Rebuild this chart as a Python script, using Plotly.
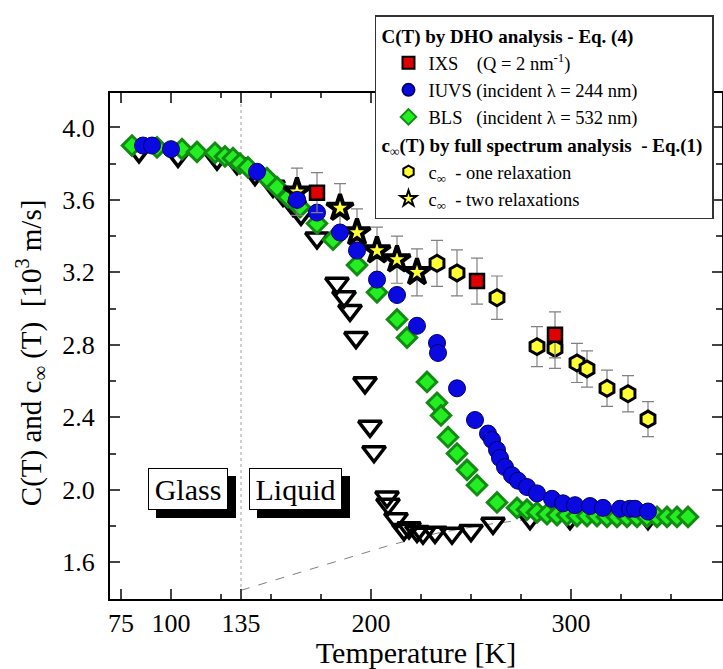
import plotly.graph_objects as go

SERIF = "Liberation Serif"

# ---------------- data ----------------
# open down-triangles (unlabelled series)
tri_T = [84, 103.5, 123, 133, 142, 151, 156, 161, 165, 173, 183, 186.5, 189.5, 192.5, 197, 199.5,
         201.5, 208, 208.5, 212.5, 216.5, 219, 223, 226, 232, 240.5, 250, 261, 279.5, 299.5, 338.5]
tri_v = [3.865, 3.84, 3.825, 3.80, 3.74, 3.675, 3.625, 3.57, 3.52, 3.39, 3.14, 3.065, 2.99, 2.84, 2.59, 2.35,
         2.21, 1.96, 1.92, 1.84, 1.78, 1.79, 1.77, 1.76, 1.765, 1.76, 1.775, 1.815, 1.84, 1.84, 1.84]

# BLS (green diamonds)
bls_T = [80.5, 93, 105.5, 113, 122, 127, 131, 134.5, 138.5, 148, 153, 158.5, 164.5, 173, 181, 193, 203,
         213, 218, 228, 233, 235, 238.5, 243, 248, 253, 263, 273, 278, 283, 288, 293, 298, 303, 308, 313,
         318, 323, 328, 333, 338, 343, 348, 353, 358.5]
bls_v = [3.90, 3.89, 3.88, 3.865, 3.86, 3.84, 3.83, 3.80, 3.78, 3.72, 3.67, 3.615, 3.56, 3.47, 3.38, 3.24,
         3.09, 2.94, 2.84, 2.595, 2.48, 2.41, 2.29, 2.20, 2.11, 2.025, 1.93, 1.90, 1.89, 1.875, 1.865, 1.86,
         1.86, 1.855, 1.855, 1.855, 1.85, 1.85, 1.85, 1.85, 1.85, 1.85, 1.85, 1.85, 1.85]

# IUVS (blue circles)
iuvs_T = [86, 90.5, 100, 143, 163, 173, 184.5, 193, 203, 213, 223, 233, 233.5, 243, 252, 258.5, 260.5,
          263, 264.5, 267, 270.5, 273.5, 278, 283, 290.5, 296, 302, 309.5, 316, 324.5, 329.5, 332, 338.5]
iuvs_v = [3.90, 3.90, 3.88, 3.755, 3.60, 3.53, 3.42, 3.32, 3.16, 3.075, 2.905, 2.81, 2.755, 2.56, 2.385,
          2.31, 2.275, 2.22, 2.175, 2.125, 2.08, 2.05, 2.015, 1.98, 1.95, 1.925, 1.915, 1.91, 1.90, 1.895,
          1.895, 1.895, 1.88]

# c_inf two relaxations (stars)
two_T = [163, 184.5, 193, 203, 213, 223]
two_v = [3.645, 3.555, 3.42, 3.32, 3.27, 3.20]
two_err = [0.13, 0.135, 0.13, 0.13, 0.13, 0.13]

# c_inf one relaxation (yellow hexagons)
one_T = [233, 243, 263, 283, 292, 303, 308, 318, 328.5, 338.5]
one_v = [3.25, 3.197, 3.06, 2.79, 2.78, 2.70, 2.667, 2.56, 2.53, 2.39]
one_err = [0.127, 0.127, 0.12, 0.11, 0.11, 0.108, 0.10, 0.10, 0.10, 0.097]

# IXS (red squares)
ixs_T = [173, 253, 292]
ixs_v = [3.64, 3.152, 2.855]
ixs_err = [0.11, 0.127, 0.127]

# dashed guide curve
fit_T = [135, 164.5, 189.5, 209.5, 233, 256, 273, 290]
fit_v = [1.445, 1.545, 1.628, 1.694, 1.76, 1.805, 1.83, 1.85]

x_ticks = [75, 100, 135, 200, 300]
y_ticks = [1.6, 2.0, 2.4, 2.8, 3.2, 3.6, 4.0]

ERR = dict(type="data", visible=True, color="#808080", thickness=1.2, width=6)
G1 = "<b>C(T) by DHO analysis - Eq. (4)</b>"
G2 = "<b>c<sub>∞</sub>(T) by full spectrum analysis\u00a0\u00a0- Eq.(1)</b>"

fig = go.Figure()

fig.add_trace(go.Scatter(x=fit_T, y=fit_v, mode="lines", showlegend=False,
                         line=dict(color="#808080", width=1, dash="dash"), hoverinfo="skip"))

fig.add_trace(go.Scatter(x=tri_T, y=tri_v, mode="markers", showlegend=False,
                         marker=dict(symbol="triangle-down-open", size=20, color="black",
                                     line=dict(color="black", width=3.5))))

fig.add_trace(go.Scatter(x=bls_T, y=bls_v, mode="markers",
                         name="BLS\u00a0\u00a0\u00a0(incident λ = 532 nm)",
                         legendgroup="dho", legendrank=3, legendgrouptitle=dict(text=G1),
                         marker=dict(symbol="diamond", size=15, color="#22ee22",
                                     line=dict(color="#138a13", width=3))))

fig.add_trace(go.Scatter(x=two_T, y=two_v, mode="markers",
                         name="c<sub>∞</sub>\u00a0\u00a0- two relaxations",
                         legendgroup="full", legendrank=5, legendgrouptitle=dict(text=G2),
                         error_y=dict(array=two_err, **ERR),
                         marker=dict(symbol="star", size=20, color="#ffff33",
                                     line=dict(color="black", width=4))))

fig.add_trace(go.Scatter(x=one_T, y=one_v, mode="markers",
                         name="c<sub>∞</sub>\u00a0\u00a0- one relaxation",
                         legendgroup="full", legendrank=4, legendgrouptitle=dict(text=G2),
                         error_y=dict(array=one_err, **ERR),
                         marker=dict(symbol="hexagon", size=16, color="#ffff33",
                                     line=dict(color="black", width=3))))

fig.add_trace(go.Scatter(x=iuvs_T, y=iuvs_v, mode="markers",
                         name="IUVS (incident λ = 244 nm)",
                         legendgroup="dho", legendrank=2, legendgrouptitle=dict(text=G1),
                         marker=dict(symbol="circle", size=17, color="#0a0ae0",
                                     line=dict(color="#00006e", width=1))))

fig.add_trace(go.Scatter(x=ixs_T, y=ixs_v, mode="markers",
                         name="IXS\u00a0\u00a0\u00a0\u00a0(Q = 2 nm<sup>-1</sup>)",
                         legendgroup="dho", legendrank=1, legendgrouptitle=dict(text=G1),
                         error_y=dict(array=ixs_err, **ERR),
                         marker=dict(symbol="square", size=14, color="#e00000",
                                     line=dict(color="black", width=2.5))))

# vertical dotted line at Tg
fig.add_shape(type="line", x0=135, x1=135, y0=0, y1=1, xref="x", yref="paper",
              line=dict(color="#a0a0a0", width=1, dash="dot"), layer="below")

# Glass / Liquid labels with black drop shadows
for (xc, x0, x1, txt, w) in [(108.5, 92.5, 132.5, "Glass", 78), (162.25, 143, 189.5, "Liquid", 91)]:
    fig.add_shape(type="rect", x0=x0, x1=x1, y0=1.844, y1=2.076, xref="x", yref="y",
                  fillcolor="black", line=dict(width=0), layer="above")
    fig.add_annotation(x=xc, y=2.003, xref="x", yref="y", text=txt, showarrow=False,
                       font=dict(family=SERIF, size=30, color="black"),
                       bgcolor="white", bordercolor="black", borderwidth=1, borderpad=0,
                       width=w, height=40)

# y-axis title
fig.add_annotation(x=-0.129, y=0.486, xref="paper", yref="paper", textangle=-90,
                   text="C(T) and c<sub>∞</sub> (T)\u00a0\u00a0[10<sup>3</sup> m/s]", showarrow=False,
                   font=dict(family=SERIF, size=29, color="black"), xanchor="center", yanchor="middle")

fig.update_layout(
    width=723, height=669,
    margin=dict(l=110, r=1, t=93, b=70, autoexpand=False),
    paper_bgcolor="white", plot_bgcolor="white",
    font=dict(family=SERIF, color="black"),
    legend=dict(x=0.433, y=1.154, xanchor="left", yanchor="top",
                bgcolor="white", bordercolor="#333", borderwidth=1.5,
                font=dict(family=SERIF, size=18.5, color="black"),
                grouptitlefont=dict(family=SERIF, size=19, color="black"),
                traceorder="grouped", tracegroupgap=0, itemsizing="constant", indentation=12),
    xaxis=dict(range=[69.5, 375.5], tickvals=x_ticks, ticktext=[str(v) for v in x_ticks],
               ticks="inside", ticklen=10, tickwidth=1.5, showline=True, linecolor="black", linewidth=2,
               mirror="ticks", showgrid=False, zeroline=False, automargin=False,
               tickfont=dict(family=SERIF, size=26), ticklabelstandoff=0,
               minor=dict(dtick=25, tick0=0, ticks="inside", ticklen=5, tickwidth=1.5),
               title=dict(text="Temperature [K]", font=dict(family=SERIF, size=30), standoff=5)),
    yaxis=dict(range=[1.397, 4.19], tickvals=y_ticks, ticktext=["%.1f" % v for v in y_ticks],
               ticks="inside", ticklen=10, tickwidth=1.5, showline=True, linecolor="black", linewidth=2,
               mirror="ticks", showgrid=False, zeroline=False, automargin=False,
               tickfont=dict(family=SERIF, size=26), ticklabelstandoff=8,
               minor=dict(dtick=0.2, tick0=0, ticks="inside", ticklen=6, tickwidth=1.5)),
)

fig.write_html("out.html", config={"displayModeBar": False},
               post_script="document.body.style.margin='0';document.body.style.padding='0';")
